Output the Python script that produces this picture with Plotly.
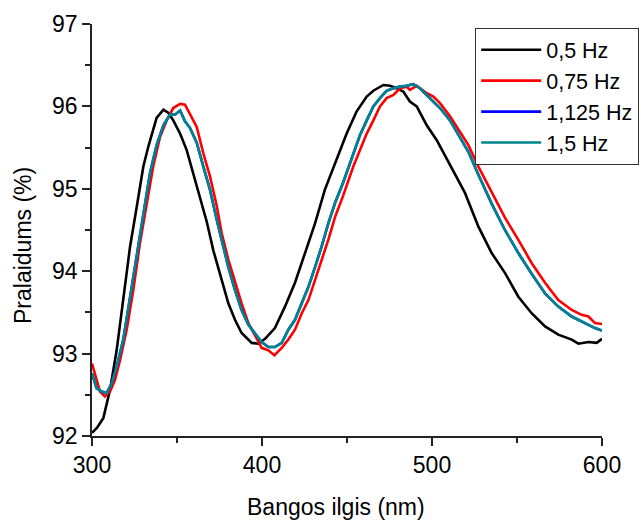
import plotly.graph_objects as go

# 0,5 Hz
wl_05 = [300, 303, 306.7, 310.6, 314.5, 318.4, 322.4, 326.3, 330.2, 333.1, 336, 338, 342, 345, 347.8,
         351.8, 355.7, 359.6, 363.5, 367.5, 371.4, 376.3, 380.2, 384.1, 388, 394, 397.8, 401.8,
         407.6, 413.5, 419.4, 425.3, 431.2, 437, 443, 447.8, 449.8, 455.7, 461.6, 465.5, 471.4,
         475.3, 479.2, 483.1, 487, 491, 496.9, 502.8, 508.6, 514.5, 519.4, 527.3, 535.1, 542.9,
         550.8, 558.6, 566.5, 574.3, 582.2, 586.1, 592, 596.9, 600]
t_05 = [92.04, 92.10, 92.22, 92.56, 93.04, 93.65, 94.30, 94.78, 95.27, 95.51, 95.71, 95.86, 95.96, 95.92, 95.83,
        95.67, 95.47, 95.19, 94.90, 94.60, 94.25, 93.89, 93.61, 93.41, 93.25, 93.13, 93.12, 93.18,
        93.31, 93.57, 93.86, 94.22, 94.58, 94.99, 95.31, 95.55, 95.67, 95.94, 96.12, 96.19, 96.26,
        96.25, 96.22, 96.18, 96.06, 96.00, 95.77, 95.59, 95.37, 95.15, 94.95, 94.54, 94.22, 93.98,
        93.69, 93.49, 93.33, 93.23, 93.17, 93.12, 93.14, 93.13, 93.18]

# 0,75 Hz
wl_075 = [300, 302.7, 304.7, 307.6, 310.6, 313.5, 316.5, 320.4, 324.3, 328.2, 332.2, 336, 340, 343.9,
          347.8, 351.8, 354.7, 357.6, 361.6, 365.5, 369.4, 373.3, 376.3, 380.2, 384.1, 388, 392,
          395.9, 399.8, 403.7, 407.3, 411.6, 415.5, 419.4, 423.4, 427.3, 431.2, 435.1, 439, 443,
          447.8, 453.7, 457.6, 461.6, 465.5, 469.4, 473.3, 477.3, 481.2, 485.1, 487, 491, 496.9,
          500.8, 504.7, 510.6, 516.5, 521.4, 527.3, 535.1, 542.9, 550.8, 558.6, 566.5, 574.3,
          582.2, 588, 592, 595.9, 600]
t_075 = [92.88, 92.68, 92.54, 92.48, 92.54, 92.68, 92.92, 93.29, 93.77, 94.34, 94.83, 95.27, 95.63, 95.83,
         95.98, 96.03, 96.02, 95.90, 95.75, 95.43, 95.15, 94.80, 94.46, 94.14, 93.86, 93.61, 93.37,
         93.21, 93.07, 93.04, 92.98, 93.07, 93.17, 93.29, 93.49, 93.65, 93.89, 94.14, 94.38, 94.66,
         94.92, 95.27, 95.47, 95.67, 95.83, 96.00, 96.10, 96.14, 96.22, 96.24, 96.20, 96.25, 96.16,
         96.12, 96.04, 95.88, 95.69, 95.53, 95.27, 94.95, 94.65, 94.38, 94.10, 93.86, 93.65,
         93.53, 93.47, 93.45, 93.37, 93.36]

# 1,5 Hz
wl_15 = [300, 302.7, 305.7, 308.6, 311.6, 314.5, 318.4, 322.4, 326.3, 330.2, 334.1, 338, 342, 345.9,
         348.8, 351.8, 354.7, 357.6, 361.6, 365.5, 369.4, 373.3, 376.3, 380.2, 384.1, 388, 392,
         395.9, 399.8, 403.7, 407.6, 411.6, 415.5, 419.4, 423.4, 427.3, 431.2, 435.1, 439, 443,
         447.8, 453.7, 457.6, 461.6, 465.5, 469.4, 473.3, 477.3, 481.2, 485.1, 489, 492.9, 496.9,
         500.8, 504.7, 510.6, 516.5, 521.4, 527.3, 535.1, 542.9, 550.8, 558.6, 566.5, 574.3,
         582.2, 590, 595.9, 600]
t_15 = [92.76, 92.58, 92.54, 92.52, 92.64, 92.84, 93.17, 93.69, 94.22, 94.74, 95.19, 95.53, 95.77, 95.90,
        95.90, 95.95, 95.82, 95.74, 95.56, 95.27, 94.99, 94.63, 94.38, 94.05, 93.77, 93.53, 93.35,
        93.25, 93.14, 93.08, 93.08, 93.13, 93.29, 93.41, 93.61, 93.81, 94.05, 94.30, 94.58, 94.83,
        95.08, 95.43, 95.65, 95.83, 96.00, 96.10, 96.19, 96.22, 96.24, 96.25, 96.27, 96.22, 96.14,
        96.06, 95.98, 95.83, 95.63, 95.45, 95.17, 94.82, 94.50, 94.22, 93.97, 93.73, 93.57,
        93.45, 93.37, 93.31, 93.28]

# 1,125 Hz (lies under the 1,5 Hz curve)
wl_1125 = list(wl_15)
t_1125 = [92.76, 92.58, 92.54, 92.52, 92.64, 92.84, 93.17, 93.69, 94.22, 94.74, 95.19, 95.53, 95.77, 95.90,
          95.90, 95.95, 95.82, 95.74, 95.56, 95.27, 94.99, 94.63, 94.38, 94.05, 93.77, 93.53, 93.35,
          93.25, 93.14, 93.08, 93.08, 93.13, 93.29, 93.41, 93.61, 93.81, 94.05, 94.30, 94.58, 94.83,
          95.08, 95.43, 95.65, 95.83, 96.00, 96.10, 96.19, 96.22, 96.24, 96.25, 96.27, 96.22, 96.14,
          96.06, 95.98, 95.83, 95.63, 95.45, 95.17, 94.82, 94.50, 94.22, 93.97, 93.73, 93.57,
          93.45, 93.37, 93.31, 93.28]

series = [
    ("0,5 Hz", wl_05, t_05, "#000000"),
    ("0,75 Hz", wl_075, t_075, "#ff0000"),
    ("1,125 Hz", wl_1125, t_1125, "#0000ff"),
    ("1,5 Hz", wl_15, t_15, "#00858a"),
]

x_ticks = [300, 400, 500, 600]
y_ticks = [92, 93, 94, 95, 96, 97]

FONT = "Liberation Sans, Arial, sans-serif"

fig = go.Figure()
for name, xs, ys, col in series:
    fig.add_trace(go.Scatter(x=xs, y=ys, name=name, mode="lines",
                             line=dict(color=col, width=2.6)))

fig.update_layout(
    width=641, height=522,
    margin=dict(l=92, r=39, t=24, b=86, autoexpand=False),
    paper_bgcolor="white", plot_bgcolor="white",
    font=dict(family=FONT, size=22, color="black"),
    showlegend=True,
    legend=dict(x=(639 - 92) / 510, xanchor="right", y=(436 - 28) / 412, yanchor="top",
                xref="paper", yref="paper",
                bordercolor="#333333", borderwidth=1.2,
                bgcolor="white", font=dict(size=21.5, family=FONT),
                tracegroupgap=0, itemwidth=60),
    xaxis=dict(range=[300, 600], tickvals=x_ticks, ticktext=[str(v) for v in x_ticks],
               showgrid=False, zeroline=False, showline=True, linecolor="#222222", linewidth=1.6,
               ticks="outside", ticklen=8, tickwidth=1.6, tickcolor="#222222",
               minor=dict(dtick=50, tick0=300, ticks="outside", ticklen=5, tickwidth=1.6, tickcolor="#222222"),
               tickfont=dict(size=23), mirror=False),
    yaxis=dict(range=[92, 97], tickvals=y_ticks, ticktext=[str(v) for v in y_ticks],
               showgrid=False, zeroline=False, showline=True, linecolor="#222222", linewidth=1.6,
               ticks="outside", ticklen=8, tickwidth=1.6, tickcolor="#222222",
               minor=dict(dtick=0.5, tick0=92, ticks="outside", ticklen=5, tickwidth=1.6, tickcolor="#222222"),
               tickfont=dict(size=23), mirror=False),
    annotations=[
        dict(text="Bangos ilgis (nm)", xref="paper", yref="paper", x=(336 - 92) / 510, y=-(507 - 436) / 412,
             xanchor="center", yanchor="middle", showarrow=False, font=dict(size=23, family=FONT)),
        dict(text="Pralaidums (%)", xref="paper", yref="paper", x=-(92 - 23) / 510, y=(436 - 246) / 412,
             xanchor="center", yanchor="middle", showarrow=False, textangle=-90,
             font=dict(size=23, family=FONT)),
    ],
)

fig.write_html("out.html")
